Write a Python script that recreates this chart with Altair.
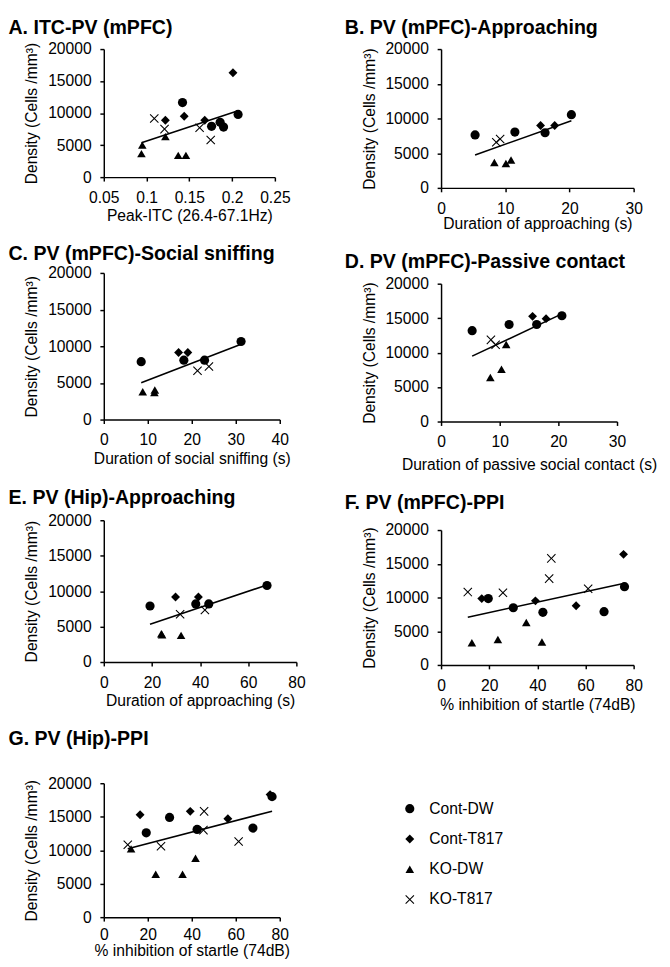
import altair as alt
import pandas as pd

FONT = "Liberation Sans"
GROUPS = ["Cont-DW", "Cont-T817", "KO-DW", "KO-T817"]
# thin "x" drawn as a filled outline so that it renders in panels and legend alike
T = 0.09
XPATH = ("M{a},{b}L0,{c}L{d},{e}L{e},{d}L{c},0L{b},{a}L{d},{f}L0,{g}"
         "L{a},{f}L{f},{a}L{g},0L{f},{d}Z").format(
    a=round(T - 1, 3), b=round(T + 1, 3), c=round(2 * T, 3), d=round(1 - T, 3),
    e=round(1 + T, 3), f=round(-1 - T, 3), g=round(-2 * T, 3))
SHAPES = ["circle", "diamond", "triangle-up", XPATH]
SIZES = [88, 72, 78, 85]
Y_TICKS = [0, 5000, 10000, 15000, 20000]
Y_TITLE = "Density (Cells /mm³)"

# ---- Panel A: ITC-PV (mPFC) ----
A_G = ["Cont-DW"] * 5 + ["Cont-T817"] * 4 + ["KO-DW"] * 5 + ["KO-T817"] * 4
A_X = [0.142, 0.176, 0.186, 0.190, 0.207,
       0.122, 0.144, 0.168, 0.201,
       0.094, 0.095, 0.122, 0.137, 0.146,
       0.109, 0.121, 0.162, 0.175]
A_Y = [11650, 7930, 8570, 7820, 9790,
       8890, 9520, 8890, 16300,
       3670, 5000, 6330, 3400, 3400,
       9150, 7500, 7700, 5800]

# ---- Panel B: PV (mPFC)-Approaching ----
B_G = ["Cont-DW"] * 4 + ["Cont-T817"] * 2 + ["KO-DW"] * 3 + ["KO-T817"] * 2
B_X = [5.3, 11.5, 16.2, 20.3, 15.5, 17.7, 8.3, 10.1, 10.9, 8.6, 9.2]
B_Y = [7630, 8040, 7950, 10550, 8990, 8990, 3660, 3520, 4020, 6590, 7040]

# ---- Panel C: PV (mPFC)-Social sniffing ----
C_G = ["Cont-DW"] * 4 + ["Cont-T817"] * 2 + ["KO-DW"] * 3 + ["KO-T817"] * 2
C_X = [8.5, 18.2, 22.9, 31.2, 17.0, 19.1, 8.85, 11.5, 11.6, 21.3, 23.9]
C_Y = [7900, 8100, 8100, 10650, 9140, 9140, 3800, 3680, 4030, 6650, 7230]

# ---- Panel D: PV (mPFC)-Passive contact ----
D_G = ["Cont-DW"] * 4 + ["Cont-T817"] * 2 + ["KO-DW"] * 3 + ["KO-T817"] * 2
D_X = [5.3, 11.6, 16.3, 20.6, 15.6, 17.9, 8.4, 10.3, 11.1, 8.5, 9.3]
D_Y = [13180, 14080, 14080, 15350, 15260, 14930, 6400, 7590, 11190, 11850, 11140]

# ---- Panel E: PV (Hip)-Approaching ----
E_G = ["Cont-DW"] * 4 + ["Cont-T817"] * 2 + ["KO-DW"] * 3 + ["KO-T817"] * 2
E_X = [19.2, 38.2, 43.6, 67.8, 29.8, 39.3, 23.9, 24.2, 32.1, 31.7, 42.0]
E_Y = [7900, 8200, 8200, 10800, 9180, 9180, 4000, 3850, 3760, 6740, 7330]

# ---- Panel F: PV (mPFC)-PPI ----
F_G = ["Cont-DW"] * 5 + ["Cont-T817"] * 4 + ["KO-DW"] * 4 + ["KO-T817"] * 5
F_X = [19.6, 30.0, 42.3, 67.7, 76.2,
       16.9, 39.2, 56.1, 75.8,
       12.8, 23.6, 35.4, 41.9,
       11.1, 25.7, 44.9, 45.8, 61.1]
F_Y = [9840, 8480, 7800, 7900, 11600,
       9840, 9500, 8770, 16400,
       3300, 3780, 6300, 3390,
       10800, 10700, 12800, 15800, 11300]

# ---- Panel G: PV (Hip)-PPI ----
G_G = ["Cont-DW"] * 5 + ["Cont-T817"] * 4 + ["KO-DW"] * 4 + ["KO-T817"] * 5
G_X = [19.3, 29.9, 42.4, 67.8, 76.5,
       16.5, 39.3, 56.4, 75.6,
       12.4, 23.6, 35.8, 41.7,
       10.9, 26.0, 45.3, 45.6, 61.3]
G_Y = [12600, 14900, 13100, 13300, 18000,
       15300, 15800, 14700, 18300,
       10200, 6400, 6400, 8800,
       10800, 10600, 13000, 15800, 11300]


def panel(title, G, X, Y, xdom, xvals, xfmt, xtitle, w, h, toff, tdx, xtpad, xlpad=9):
    df = pd.DataFrame({"x": X, "y": Y, "group": G})
    base = alt.Chart(df)
    xenc = alt.X("x:Q", scale=alt.Scale(domain=xdom, nice=False, zero=False),
                 axis=alt.Axis(values=xvals, format=xfmt, title=xtitle,
                               titlePadding=xtpad, labelPadding=xlpad,
                               labelFlush=False))
    yenc = alt.Y("y:Q", scale=alt.Scale(domain=[0, 20000], nice=False),
                 axis=alt.Axis(values=Y_TICKS, format="d", title=Y_TITLE,
                               labelFlush=False))
    line = base.transform_regression("x", "y").mark_line(
        color="black", strokeWidth=1.6).encode(x=xenc, y=yenc)
    pts = base.mark_point(filled=True, color="black", opacity=1).encode(
        x=xenc, y=yenc,
        shape=alt.Shape("group:N", scale=alt.Scale(domain=GROUPS, range=SHAPES),
                        legend=alt.Legend(title=None)),
        size=alt.Size("group:N", scale=alt.Scale(domain=GROUPS, range=SIZES),
                      legend=alt.Legend(title=None)),
    )
    return alt.layer(line, pts).properties(
        width=w, height=h,
        title=alt.TitleParams(title, anchor="start", frame="bounds",
                              offset=toff, dx=tdx, fontSize=20,
                              fontWeight="bold", font=FONT, color="black"),
    )


pA = panel("A. ITC-PV (mPFC)", A_G, A_X, A_Y, [0.05, 0.25],
           [0.05, 0.1, 0.15, 0.2, 0.25], "~g", "Peak-ITC (26.4-67.1Hz)", 175, 131, 3, -16, 2)
pC = panel("C. PV (mPFC)-Social sniffing", C_G, C_X, C_Y, [0, 40],
           [0, 10, 20, 30, 40], "d", "Duration of social sniffing (s)", 180, 150, 1, -16, 3)
pE = panel("E. PV (Hip)-Approaching", E_G, E_X, E_Y, [0, 80],
           [0, 20, 40, 60, 80], "d", "Duration of approaching (s)", 197, 145, 5, -16, 2)
pG = panel("G. PV (Hip)-PPI", G_G, G_X, G_Y, [0, 80],
           [0, 20, 40, 60, 80], "d", "% inhibition of startle (74dB)", 180, 137, 27, -16, 0, 6)
pB = panel("B. PV (mPFC)-Approaching", B_G, B_X, B_Y, [0, 30],
           [0, 10, 20, 30], "d", "Duration of approaching (s)", 197, 142, 3, -17, 0)
pD = panel("D. PV (mPFC)-Passive contact", D_G, D_X, D_Y, [0, 30],
           [0, 10, 20, 30], "d", "Duration of passive social contact (s)", 180, 141, 4, -17, 7)
pF = panel("F. PV (mPFC)-PPI", F_G, F_X, F_Y, [0, 80],
           [0, 20, 40, 60, 80], "d", "% inhibition of startle (74dB)", 197, 138, 10, -17, 4)

left = alt.vconcat(pA, pC, pE, pG, spacing=22)
right = alt.vconcat(pB, pD, pF, spacing=21)

chart = alt.hconcat(left, right, spacing=40).properties(
    padding={"left": 0, "top": 0, "right": 5, "bottom": 0}
).configure_view(stroke=None).configure_axis(
    grid=False, domainColor="black", domainWidth=1.5, tickColor="black",
    tickWidth=1.5, tickSize=4, labelFont=FONT, titleFont=FONT,
    labelFontSize=16, titleFontSize=16, titleFontWeight="normal",
    labelColor="black", titleColor="black"
).configure_axisY(
    labelPadding=9, titlePadding=8
).configure_legend(
    orient="none", legendX=305, legendY=769, labelFont=FONT, labelFontSize=16,
    labelColor="black", rowPadding=15, labelOffset=12, padding=0
)

chart.save("out.html", embed_options={"renderer": "svg", "actions": False})
